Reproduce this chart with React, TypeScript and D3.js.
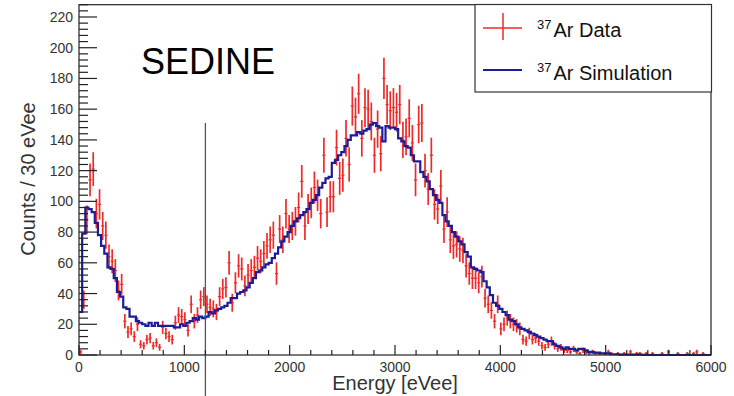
import React from "react";
import * as d3 from "d3";

const binWidth = 30;
const xTicks = [0, 1000, 2000, 3000, 4000, 5000, 6000];
const yTicks = [0, 20, 40, 60, 80, 100, 120, 140, 160, 180, 200, 220];
const cutEnergy = 1200;

const dataCounts = [
  2, 36, 88, 114, 121, 92, 98, 84, 78, 64,
  61, 55, 42, 46, 22, 15, 17, 12, 20, 7,
  6, 10, 11, 6, 8, 5, 18, 14, 12, 10,
  21, 26, 25, 23, 16, 33, 22, 26, 36, 38,
  33, 31, 30, 28, 38, 43, 44, 60, 34, 47,
  58, 56, 45, 52, 55, 57, 63, 61, 66, 71,
  75, 78, 53, 82, 75, 92, 82, 84, 87, 96,
  113, 84, 95, 99, 109, 104, 92, 130, 93, 103,
  103, 135, 115, 117, 141, 124, 162, 155, 170, 141,
  161, 160, 152, 130, 147, 131, 180, 163, 159, 161,
  158, 163, 140, 142, 154, 138, 114, 150, 151, 120,
  108, 130, 98, 95, 110, 82, 93, 75, 71, 72,
  69, 68, 58, 53, 50, 50, 47, 51, 37, 33,
  29, 22, 33, 17, 20, 24, 22, 20, 19, 17,
  10, 9, 14, 10, 11, 9, 6, 5, 7, 9,
  6, 4, 5, 3, 3, 2, 4, 2, 1, 3,
  2, 1, 2, 1, 1, 0, 1, 2, 1, 0,
  1, 0, 1, 0, 2, 0, 1, 1, 0, 1,
  0, 1, 0, 0, 1, 0, 2, 0, 0, 1,
  0, 0, 1, 0, 1, 2, 0, 1, 0, 0,
];

const simCounts = [
  28, 79, 96, 95, 93, 86, 78, 71, 66, 57,
  56, 50, 41, 38, 31, 30, 25, 25, 22, 21,
  20, 19, 21, 19, 21, 19, 19, 19, 19, 19,
  18, 18, 20, 19, 21, 22, 24, 23, 25, 24,
  25, 28, 27, 29, 30, 31, 32, 34, 37, 37,
  40, 41, 42, 44, 47, 50, 54, 55, 57, 59,
  60, 63, 66, 70, 74, 77, 80, 84, 87, 89,
  91, 93, 95, 99, 101, 104, 109, 112, 115, 116,
  125, 127, 130, 132, 136, 140, 143, 143, 145, 144,
  146, 147, 150, 151, 149, 148, 139, 149, 148, 148,
  147, 141, 139, 136, 135, 130, 126, 126, 119, 116,
  113, 108, 104, 101, 99, 91, 87, 84, 80, 77,
  74, 72, 67, 64, 57, 56, 55, 54, 48, 44,
  39, 34, 32, 30, 28, 26, 23, 22, 20, 18,
  17, 16, 15, 14, 13, 12, 11, 10, 9, 9,
  7, 6, 5, 4, 5, 4, 4, 3, 4, 4,
  3, 2, 2, 1.5, 1.5, 1, 1, 1, 0.5, 0.5,
  0.5, 0.3, 0.3, 0.3, 0.2, 0.2, 0.2, 0.2, 0.1, 0.1,
  0, 0, 0, 0, 0, 0, 0, 0, 0, 0,
  0, 0, 0, 0, 0, 0, 0, 0, 0, 0,
];

const FONT = "'Liberation Sans', Arial, sans-serif";

export default function App() {
  const W = 734;
  const H = 396;
  const x = d3.scaleLinear().domain([0, 6000]).range([79, 711]);
  const y = d3.scaleLinear().domain([0, 228]).range([355, 4.7]);

  let simPath = `M${x(0)},${y(simCounts[0])}`;
  simCounts.forEach((v, i) => {
    if (i > 0) simPath += `V${y(v)}`;
    simPath += `H${x((i + 1) * binWidth)}`;
  });

  const xMinor = d3.range(0, 6001, 200).filter((v) => v % 1000 !== 0);
  const yMinor = d3.range(0, 229, 4).filter((v) => v % 20 !== 0);

  const textColor = "#333";
  const red = "#ee2a2a";
  const blue = "#1c1c98";

  return (
    <div style={{ position: "absolute", left: 0, top: 0 }}>
      <svg width={W} height={H} style={{ display: "block", background: "#fff" }}>
        <g stroke={red} strokeWidth={1.7}>
          {dataCounts.map((v, i) => {
            if (v <= 0) return null;
            const e = Math.sqrt(v);
            const cx = x(i * binWidth + binWidth / 2);
            return (
              <g key={i}>
                <line x1={cx} x2={cx} y1={y(Math.max(0, v - e))} y2={y(v + e)} />
                <line x1={x(i * binWidth)} x2={x((i + 1) * binWidth)} y1={y(v)} y2={y(v)} strokeWidth={1.2} />
              </g>
            );
          })}
        </g>
        <path d={simPath} fill="none" stroke={blue} strokeWidth={2.2} />

        <line x1={x(cutEnergy)} x2={x(cutEnergy)} y1={123} y2={H} stroke="#555" strokeWidth={1.3} />

        <rect x={x(0)} y={y(228)} width={x(6000) - x(0)} height={y(0) - y(228)} fill="none" stroke="#222" strokeWidth={1.2} />

        <g stroke="#222" strokeWidth={1.2}>
          {xTicks.map((t) => (
            <line key={"xt" + t} x1={x(t)} x2={x(t)} y1={y(0)} y2={y(0) - 10} />
          ))}
          {xMinor.map((t) => (
            <line key={"xm" + t} x1={x(t)} x2={x(t)} y1={y(0)} y2={y(0) - 5} />
          ))}
          {yTicks.map((t) => (
            <line key={"yt" + t} x1={x(0)} x2={x(0) + 18} y1={y(t)} y2={y(t)} />
          ))}
          {yMinor.map((t) => (
            <line key={"ym" + t} x1={x(0)} x2={x(0) + 9} y1={y(t)} y2={y(t)} />
          ))}
        </g>
        <g fontFamily={FONT} fontSize={14} fill={textColor}>
          {xTicks.map((t) => (
            <text key={"xl" + t} x={x(t)} y={372} textAnchor="middle">
              {t}
            </text>
          ))}
          {yTicks.map((t) => (
            <text key={"yl" + t} x={73} y={y(t) + 5} textAnchor="end">
              {t}
            </text>
          ))}
        </g>

        <text x={(x(0) + x(6000)) / 2} y={390} textAnchor="middle" fontFamily={FONT} fontSize={20} fill={textColor}>
          Energy [eVee]
        </text>
        <text
          transform={`translate(35,179) rotate(-90)`}
          textAnchor="middle"
          fontFamily={FONT}
          fontSize={20}
          fill={textColor}
        >
          Counts / 30 eVee
        </text>

        <text x={141} y={74} fontFamily={FONT} fontSize={36} fill="#000">
          SEDINE
        </text>

        <rect x={475} y={4.5} width={236.5} height={87.5} fill="#fff" stroke="#333" strokeWidth={1.2} />
        <line x1={483} x2={522} y1={28} y2={28} stroke={red} strokeWidth={1.5} />
        <line x1={503} x2={503} y1={13} y2={40} stroke={red} strokeWidth={1.5} />
        <line x1={483} x2={522} y1={70} y2={70} stroke={blue} strokeWidth={2} />
        <text x={537} y={37} fontFamily={FONT} fill="#111">
          <tspan fontSize={13} dy={-8}>37</tspan>
          <tspan fontSize={20} dy={8} dx={2}>Ar Data</tspan>
        </text>
        <text x={537} y={80} fontFamily={FONT} fill="#111">
          <tspan fontSize={13} dy={-8}>37</tspan>
          <tspan fontSize={20} dy={8} dx={2}>Ar Simulation</tspan>
        </text>
      </svg>
    </div>
  );
}
